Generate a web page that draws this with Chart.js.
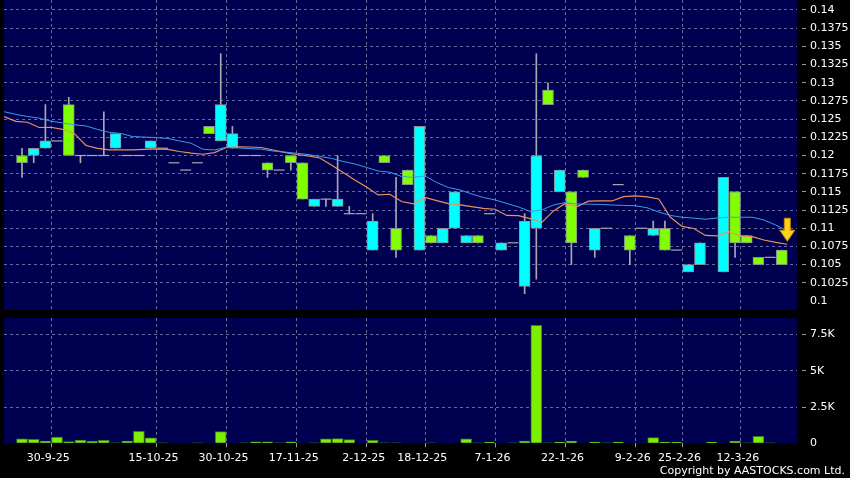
<!DOCTYPE html>
<html>
<head>
<meta charset="utf-8">
<script src="https://cdn.jsdelivr.net/npm/chart.js@4.4.1/dist/chart.umd.min.js"></script>
<style>
  html, body { margin: 0; padding: 0; background: #000; }
  #wrap { position: relative; width: 850px; height: 478px; overflow: hidden; background: #000; }
  #priceChart { position: absolute; left: 0; top: 0; }
  #volChart { position: absolute; left: 0; top: 312px; }
  #copy { position: absolute; right: 5px; top: 464px; font: 11px 'DejaVu Sans', sans-serif; color: #fff; }
</style>
</head>
<body>
<div id="wrap">
  <canvas id="priceChart" width="850" height="312"></canvas>
  <canvas id="volChart" width="850" height="166"></canvas>
  <div id="copy">Copyright by AASTOCKS.com Ltd.</div>
</div>
<script>
// candles, one per traded day (index 0..65), null = no candle drawn
const opens = [0.119,0.121,0.122,0.122,0.120,0.120,0.120,0.120,0.123,0.120,0.120,0.122,0.121,0.119,0.118,0.119,0.123,0.127,0.123,0.120,
               0.120,0.118,0.118,0.119,0.114,0.114,0.114,0.114,0.112,0.112,0.111,0.119,0.107,0.116,0.124,0.108,0.110,0.115,0.109,0.108,
               0.112,0.108,0.108,0.111,0.120,0.127,0.118,0.108,0.117,0.110,0.110,0.116,0.107,0.110,0.110,0.107,0.107,0.105,0.108,null,
               0.117,0.108,0.108,0.105,0.106,0.105];
const highs = [0.121,0.121,0.127,0.122,0.128,0.120,0.120,0.126,0.123,0.120,0.120,0.122,0.121,0.119,0.118,0.119,0.124,0.134,0.124,0.120,
               0.120,0.119,0.118,0.120,0.119,0.114,0.114,0.120,0.113,0.112,0.112,0.120,0.117,0.118,0.124,0.109,0.110,0.115,0.109,0.109,
               0.112,0.108,0.108,0.112,0.134,0.130,0.118,0.115,0.118,0.110,0.110,0.116,0.109,0.110,0.111,0.111,0.107,0.105,0.108,null,
               0.117,0.115,0.109,0.106,0.106,0.107];
const lows  = [0.117,0.119,0.121,0.122,0.120,0.119,0.120,0.120,0.121,0.120,0.120,0.121,0.121,0.119,0.118,0.119,0.123,0.122,0.121,0.120,
               0.120,0.117,0.118,0.118,0.114,0.113,0.113,0.113,0.112,0.112,0.107,0.119,0.106,0.116,0.107,0.108,0.108,0.110,0.108,0.108,
               0.112,0.107,0.108,0.101,0.103,0.127,0.115,0.105,0.117,0.106,0.110,0.116,0.105,0.110,0.109,0.107,0.107,0.104,0.105,null,
               0.104,0.106,0.108,0.105,0.106,0.105];
const closes = [0.120,0.120,0.121,0.122,0.127,0.120,0.120,0.120,0.121,0.120,0.120,0.121,0.121,0.119,0.118,0.119,0.124,0.122,0.121,0.120,
               0.120,0.119,0.118,0.120,0.119,0.113,0.114,0.113,0.112,0.112,0.107,0.120,0.110,0.118,0.107,0.109,0.108,0.110,0.108,0.109,
               0.112,0.107,0.108,0.102,0.110,0.129,0.115,0.115,0.118,0.107,0.110,0.116,0.109,0.110,0.109,0.110,0.107,0.104,0.105,null,
               0.104,0.115,0.109,0.106,0.106,0.107];

// volume per day (shares)
const volumes = [300,280,160,430,110,230,140,200,30,160,830,370,30,0,0,30,0,800,0,30,
                 100,100,30,100,0,30,300,320,250,0,200,30,30,0,0,30,0,0,300,30,
                 90,0,30,160,8130,30,90,160,0,90,30,90,0,0,390,90,90,0,0,90,
                 0,160,30,480,30,0];

// moving averages, starting at index -2
const maStart = -2;
const maBlue = [0.12602,0.12565,0.12536,0.12513,0.12472,0.12447,0.12422,0.12406,0.12358,0.12318,
                0.12303,0.12260,0.12253,0.12246,0.12234,0.12200,0.12169,0.12086,0.12076,0.12113,
                0.12104,0.12095,0.12087,0.12062,0.12047,0.12031,0.12013,0.11987,0.11961,0.11918,
                0.11884,0.11836,0.11787,0.11770,0.11712,0.11698,0.11719,0.11629,0.11561,0.11526,
                0.11471,0.11423,0.11389,0.11341,0.11293,0.11231,0.11251,0.11320,0.11352,0.11334,
                0.11331,0.11327,0.11320,0.11313,0.11310,0.11282,0.11224,0.11176,0.11151,0.11139,
                0.11124,0.11141,0.11151,0.11151,0.11151,0.11114,0.11045,0.10963];
const maOrange = [0.12534,0.12470,0.12457,0.12385,0.12388,0.12360,0.12303,0.12138,0.12097,0.12076,
                  0.12076,0.12076,0.12083,0.12090,0.12083,0.12055,0.12032,0.12017,0.12039,0.12110,
                  0.12120,0.12117,0.12110,0.12076,0.12044,0.12014,0.11994,0.11966,0.11870,0.11767,
                  0.11664,0.11568,0.11458,0.11467,0.11368,0.11334,0.11423,0.11379,0.11338,0.11320,
                  0.11297,0.11272,0.11261,0.11176,0.11173,0.11132,0.11080,0.11238,0.11341,0.11297,
                  0.11372,0.11375,0.11375,0.11434,0.11444,0.11430,0.11403,0.11150,0.11025,0.10997,
                  0.10901,0.10894,0.10953,0.10894,0.10885,0.10839,0.10805,0.10780];

// date labels and the day index they start at
const xLabelIdx = [3, 12, 18, 24, 30, 35, 41, 47, 53, 57, 62];
const xLabels = ['30-9-25','15-10-25','30-10-25','17-11-25','2-12-25','18-12-25','7-1-26','22-1-26','9-2-26','25-2-26','12-3-26'];

const priceTicks = [0.1,0.1025,0.105,0.1075,0.11,0.1125,0.115,0.1175,0.12,0.1225,0.125,0.1275,0.13,0.1325,0.135,0.1375,0.14];
const priceTickLabels = ['0.1','0.1025','0.105','0.1075','0.11','0.1125','0.115','0.1175','0.12','0.1225','0.125','0.1275','0.13','0.1325','0.135','0.1375','0.14'];
const volTicks = [0, 2500, 5000, 7500];
const volTickLabels = ['0', '2.5K', '5K', '7.5K'];

// look
const NAVY = '#000050';
const GRID = 'rgba(140,140,190,0.75)';
const NONE = 'rgba(0,0,0,0)';
const UP = '#80ff00';
const DOWN = '#00ffff';
const WICK = '#a8a8b0';
const X_MIN = -1.54, X_MAX = 66.3;
const MA_SHIFT = 0.47;

Chart.defaults.font.family = "'DejaVu Sans', sans-serif";
Chart.defaults.font.size = 11;
Chart.defaults.color = '#ffffff';

const panelBg = {
    id: 'panelBg',
    beforeDraw(chart) {
        const a = chart.chartArea;
        const ctx = chart.ctx;
        ctx.save();
        ctx.fillStyle = NAVY;
        ctx.fillRect(a.left, a.top, a.right - a.left, a.bottom - a.top);
        ctx.restore();
    }
};

// yellow arrow at the end of the short average
const lastArrow = {
    id: 'lastArrow',
    afterDatasetsDraw(chart) {
        const last = maOrange.length - 1;
        const x = chart.scales.x.getPixelForValue(maStart + last + MA_SHIFT);
        const tip = chart.scales.y.getPixelForValue(maOrange[last]) - 3;
        const ctx = chart.ctx;
        ctx.save();
        ctx.beginPath();
        ctx.moveTo(x - 3, tip - 23);
        ctx.lineTo(x + 3, tip - 23);
        ctx.lineTo(x + 3, tip - 11);
        ctx.lineTo(x + 7.5, tip - 11);
        ctx.lineTo(x, tip);
        ctx.lineTo(x - 7.5, tip - 11);
        ctx.lineTo(x - 3, tip - 11);
        ctx.closePath();
        ctx.fillStyle = '#ffd21a';
        ctx.fill();
        ctx.strokeStyle = '#c98a00';
        ctx.lineWidth = 1;
        ctx.stroke();
        ctx.restore();
    }
};

// split candles into bodies, flat days and wicks
const bodies = [], bodyColors = [], flats = [], wicks = [];
for (let i = 0; i < opens.length; i++) {
    if (opens[i] === null) continue;
    if (opens[i] === closes[i]) {
        flats.push({x: i, y: opens[i]});
    } else {
        bodies.push({x: i, y: [opens[i], closes[i]]});
        bodyColors.push(closes[i] > opens[i] ? UP : DOWN);
    }
    if (highs[i] > lows[i]) wicks.push({x: i, y: [lows[i], highs[i]]});
}

const blueLine = maBlue.map((v, k) => ({x: maStart + k + MA_SHIFT, y: v}));
const orangeLine = maOrange.map((v, k) => ({x: maStart + k + MA_SHIFT, y: v}));

function xScale(showLabels) {
    return {
        type: 'linear',
        min: X_MIN,
        max: X_MAX,
        offset: false,
        afterBuildTicks(s) { s.ticks = xLabelIdx.map(i => ({value: i - 0.5})); },
        afterFit(s) {
            s.height = showLabels ? 34.7 : 0;
            s.paddingLeft = 0;
            s.paddingRight = 0;
        },
        grid: {
            color: GRID, offset: false, drawTicks: showLabels, tickLength: 4,
            tickColor: '#9a9a9a', tickBorderDash: []
        },
        border: {display: false, dash: [3, 3]},
        ticks: {
            display: showLabels, autoSkip: false, maxRotation: 0, padding: 4, labelOffset: -3,
            color: '#ffffff',
            callback: (v, idx) => xLabels[idx]
        }
    };
}

// the axis ends get unlabeled ticks so no space is reserved for half labels
function yScale(min, max, ticks, labels) {
    const isEdge = c => c.index === 0 || c.index === ticks.length + 1;
    return {
        position: 'right',
        min: min,
        max: max,
        afterBuildTicks(s) { s.ticks = [min].concat(ticks, [max]).map(v => ({value: v})); },
        afterFit(s) {
            s.width = 53;
            s.paddingTop = 0;
            s.paddingBottom = 0;
        },
        grid: {
            color: c => isEdge(c) ? NONE : GRID,
            tickColor: c => isEdge(c) ? NONE : '#9a9a9a',
            drawTicks: true, tickLength: 9,
            tickBorderDash: [0, 5, 4, 20]
        },
        border: {display: false, dash: [3, 3]},
        ticks: {
            padding: 4, color: '#ffffff', autoSkip: false,
            callback: (v, idx) => (idx === 0 || idx === ticks.length + 1) ? null : labels[idx - 1]
        }
    };
}

new Chart(document.getElementById('priceChart'), {
    type: 'bar',
    data: {
        datasets: [
            {type: 'line', data: blueLine, borderColor: '#3d9be9', borderWidth: 1, pointRadius: 0, tension: 0},
            {type: 'line', data: orangeLine, borderColor: '#ec9060', borderWidth: 1.2, pointRadius: 0, tension: 0},
            {type: 'scatter', data: flats, pointStyle: 'line', pointRadius: 5.5, borderColor: WICK, borderWidth: 1.2},
            {type: 'bar', data: bodies, grouped: false, barThickness: 11, backgroundColor: bodyColors,
             borderColor: '#8a8f96', borderWidth: 1, borderSkipped: false},
            {type: 'bar', data: wicks, grouped: false, barThickness: 1, backgroundColor: WICK, borderWidth: 0}
        ]
    },
    options: {
        responsive: false,
        animation: false,
        layout: {autoPadding: false, padding: {left: 4, top: 0, right: 0, bottom: 2}},
        plugins: {legend: {display: false}, tooltip: {enabled: false}},
        scales: {
            x: xScale(false),
            y: yScale(0.098763, 0.141374, priceTicks, priceTickLabels)
        }
    },
    plugins: [panelBg, lastArrow]
});

new Chart(document.getElementById('volChart'), {
    type: 'bar',
    data: {
        datasets: [{
            data: volumes.map((v, i) => ({x: i, y: v})),
            barThickness: 11,
            backgroundColor: '#7cf000',
            borderColor: '#3c7a18',
            borderWidth: 1
        }]
    },
    options: {
        responsive: false,
        animation: false,
        layout: {autoPadding: false, padding: {left: 4, top: 6, right: 0, bottom: 0}},
        plugins: {legend: {display: false}, tooltip: {enabled: false}},
        scales: {
            x: xScale(true),
            y: yScale(0, 8630, volTicks, volTickLabels)
        }
    },
    plugins: [panelBg]
});
</script>
</body>
</html>
